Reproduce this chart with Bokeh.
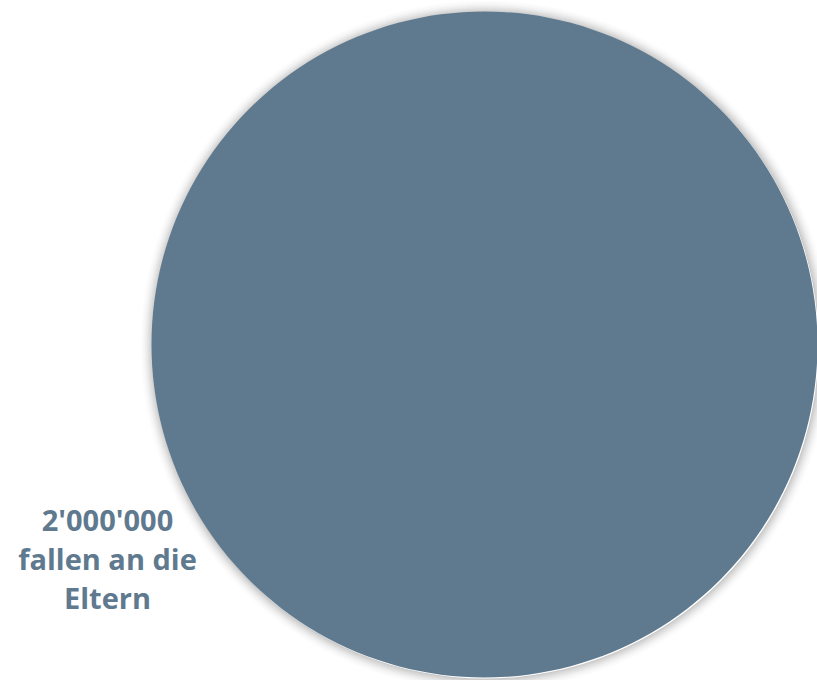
import numpy as np
from bokeh.plotting import figure
from bokeh.models import ColumnDataSource
from bokeh.core.properties import value
from bokeh.embed import file_html
from bokeh.resources import INLINE

# data
categories = ["Eltern"]
values = [2000000]
labels = ["2'000'000\nfallen an die\nEltern"]
colors = ["#5f7a8f"]

W, H = 817, 680
cx, cy, R = 484, H - 344, 333

p = figure(width=W, height=H, x_range=(0, W), y_range=(0, H),
           output_backend="svg", toolbar_location=None, min_border=0,
           outline_line_color=None, background_fill_color="white")
p.axis.visible = False
p.grid.visible = False

# soft shadow rings
N = 14
for k in range(1, N + 1):
    a = 0.22 * (1 - (k - 1) / N) ** 2
    p.annulus(x=[cx + 1], y=[cy - 1], inner_radius=R + k - 1, outer_radius=R + k,
              fill_color="black", fill_alpha=a, line_color=None)

vals = np.array(values, dtype=float)
frac = vals / vals.sum()
ends = np.cumsum(frac) * 2 * np.pi
starts = ends - frac * 2 * np.pi
eps = 1e-5
src = ColumnDataSource(dict(start=np.pi / 2 - ends + eps, end=np.pi / 2 - starts,
                            color=colors, cat=categories))
p.wedge(x=cx, y=cy, radius=R, start_angle="start", end_angle="end",
        fill_color="color", line_color=None, source=src)

p.text(x=[107], y=[H - 558], text=labels, text_align="center",
       text_baseline="middle", text_font=value("Open Sans"),
       text_font_style="bold", text_font_size="29px", text_color="#5f7a8f",
       text_line_height=1.0)

open("out.html", "w").write(file_html(p, INLINE))
